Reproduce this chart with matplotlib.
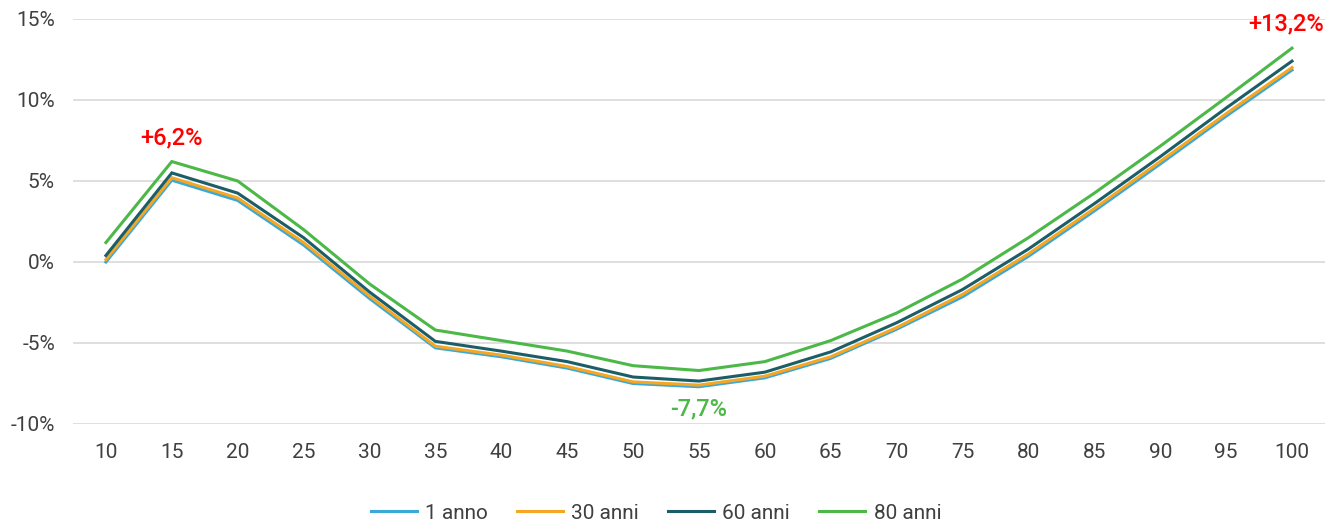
import matplotlib
matplotlib.use("Agg")
import matplotlib.pyplot as plt
from matplotlib.ticker import FuncFormatter

plt.rcParams['font.family'] = ['Roboto', 'DejaVu Sans']

ages = [10, 15, 20, 25, 30, 35, 40, 45, 50, 55, 60, 65, 70, 75, 80, 85, 90, 95, 100]

anno_1 = [0.0, 5.05, 3.8, 1.05, -2.25, -5.3, -5.85, -6.55, -7.5, -7.7, -7.15, -5.95,
          -4.15, -2.15, 0.35, 3.15, 6.05, 9.0, 11.85]
anni_30 = [0.15, 5.2, 3.95, 1.2, -2.1, -5.2, -5.75, -6.45, -7.4, -7.6, -7.05, -5.85,
           -4.05, -2.0, 0.5, 3.3, 6.2, 9.15, 12.0]
anni_60 = [0.4, 5.5, 4.25, 1.5, -1.85, -4.9, -5.5, -6.15, -7.1, -7.35, -6.8, -5.55,
           -3.75, -1.7, 0.8, 3.6, 6.5, 9.5, 12.4]
anni_80 = [1.2, 6.2, 5.0, 2.0, -1.35, -4.2, -4.85, -5.5, -6.4, -6.7, -6.15, -4.85,
           -3.15, -1.05, 1.5, 4.25, 7.15, 10.15, 13.2]

series_names = ["1 anno", "30 anni", "60 anni", "80 anni"]
series_colors = ["#3AA8D8", "#F5A623", "#1C5E68", "#4CB848"]

fig = plt.figure(figsize=(13.39, 5.23), dpi=100)
ax = fig.add_axes([0.0545, 0.1893, 0.935, 0.7744])

x = list(range(len(ages)))
for vals, name, col in zip([anno_1, anni_30, anni_60, anni_80], series_names, series_colors):
    ax.plot(x, vals, color=col, lw=2.2, label=name, solid_joinstyle='miter')

ax.set_xlim(-0.5, len(ages) - 0.5)
ax.set_ylim(-10, 15)
ax.set_yticks([-10, -5, 0, 5, 10, 15])
ax.yaxis.set_major_formatter(FuncFormatter(lambda v, p: f"{v:.0f}%".replace('-', '\u2010')))
ax.set_xticks(x)
ax.set_xticklabels([str(a) for a in ages])

ax.grid(axis='y', color='#D9D9D9', lw=1.2)
ax.set_axisbelow(True)
for s in ax.spines.values():
    s.set_visible(False)
ax.tick_params(axis='both', length=0, labelsize=15, labelcolor='#404040')
ax.tick_params(axis='x', pad=14)
ax.tick_params(axis='y', pad=13)

# annotations on extreme values
ann_style = dict(textcoords='offset points', ha='center', fontsize=17, fontweight='medium')
i_peak = ages.index(15)
ax.annotate(f"+{anni_80[i_peak]:.1f}%".replace('.', ','), (i_peak, anni_80[i_peak]),
            xytext=(0, 9), va='bottom', color='#FF0000', **ann_style)
i_min = ages.index(55)
ax.annotate(f"{anno_1[i_min]:.1f}%".replace('.', ',').replace('-', '\u2010'),
            (i_min, anno_1[i_min]), xytext=(0, -8), va='top', color='#4CB848', **ann_style)
i_end = ages.index(100)
ax.annotate(f"+{anni_80[i_end]:.1f}%".replace('.', ','), (i_end, anni_80[i_end]),
            xytext=(-4, 9), va='bottom', color='#FF0000', **ann_style)

leg = fig.legend(loc='lower center', bbox_to_anchor=(0.49, -0.035), ncol=4, frameon=False,
                 fontsize=15, handlelength=2.2, columnspacing=1.4, handletextpad=0.4)
for t in leg.get_texts():
    t.set_color('#404040')

fig.savefig("out.png", dpi=100, facecolor='white')
